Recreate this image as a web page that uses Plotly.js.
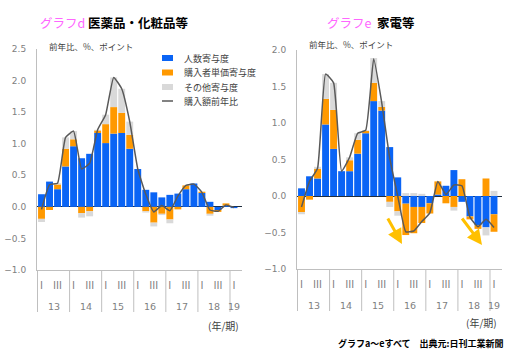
<!DOCTYPE html>
<html>
<head>
<meta charset="utf-8">
<script src="https://cdn.plot.ly/plotly-3.0.1.min.js"></script>
<style>html,body{margin:0;padding:0;background:#fff;}#chart{width:506px;height:355px;}</style>
</head>
<body>
<div id="chart"></div>
<script>
// ---- data ----
const years    = ['13','13','13','13','14','14','14','14','15','15','15','15','16','16','16','16','17','17','17','17','18','18','18','18','19'];
const quarters = ['Ⅰ','','Ⅲ','','Ⅰ','','Ⅲ','','Ⅰ','','Ⅲ','','Ⅰ','','Ⅲ','','Ⅰ','','Ⅲ','','Ⅰ','','Ⅲ','','Ⅰ'];
const seriesNames = ['人数寄与度','購入者単価寄与度','その他寄与度','購入額前年比'];

// グラフd 医薬品・化粧品等
const peopleD = [0.20,0.40,0.28,0.64,0.96,0.77,0.84,1.17,1.01,1.16,1.17,0.92,0.60,0.27,0.23,0.15,0.19,0.21,0.28,0.37,0.22,0.08,-0.05,0.02,-0.02];
const priceD  = [-0.19,-0.05,0.075,0.28,0.11,-0.10,-0.07,0.04,0.30,0.42,0.32,0.22,0.00,-0.07,-0.25,-0.11,-0.20,-0.04,0.06,0.00,0.02,-0.11,-0.03,0.035,0.00];
const otherD  = [-0.05,0.00,0.02,0.18,0.13,-0.07,-0.08,0.01,0.15,0.47,0.38,0.21,0.00,-0.02,-0.06,-0.02,-0.06,0.00,0.00,0.00,0.00,-0.03,0.00,0.00,0.00];
const totalD  = [-0.04,0.35,0.375,1.10,1.20,0.60,0.69,1.22,1.46,2.05,1.87,1.35,0.60,0.20,-0.08,0.02,-0.06,0.17,0.34,0.36,0.23,-0.05,-0.07,0.03,-0.01];

// グラフe 家電等
const peopleE = [0.105,0.27,0.24,0.98,0.645,0.34,0.34,0.58,0.86,1.30,1.17,0.67,0.255,-0.105,-0.15,-0.15,-0.10,0.02,0.14,0.355,-0.08,-0.28,-0.40,-0.43,-0.25];
const priceE  = [-0.22,-0.05,0.13,0.35,0.535,0.00,0.15,0.19,0.03,0.25,0.05,-0.08,-0.21,-0.43,-0.36,-0.22,-0.14,0.18,-0.10,-0.15,0.23,-0.04,-0.05,0.24,-0.24];
const otherE  = [-0.03,0.00,0.03,0.34,0.37,0.00,0.04,0.09,0.01,0.34,0.08,-0.07,-0.06,0.04,0.04,0.03,0.00,0.00,0.00,-0.05,0.00,0.00,0.00,-0.11,0.07];
const totalE  = [-0.15,0.20,0.38,1.67,1.55,0.34,0.53,0.86,0.90,1.88,1.28,0.52,0.00,-0.49,-0.48,-0.35,-0.23,0.20,0.02,0.15,0.14,-0.29,-0.42,-0.32,-0.43];

// ---- styles ----
const colors = ['#0a64f5','#ff9900','#d9d9d9','#595959'];
const W = 506, H = 355;
const px = v => v / W, py = v => 1 - v / H;
const periods = years.map((y, i) => y + '-' + quarters[i] + '-' + i);

function traces(people, price, other, total, xa, ya) {
  const bars = [people, price, other].map((v, i) => ({
    type: 'bar', x: periods, y: v, name: seriesNames[i], xaxis: xa, yaxis: ya,
    marker: {color: colors[i], line: {width: 0}}, showlegend: false, hoverinfo: 'y'
  }));
  bars.push({
    type: 'scatter', mode: 'lines', x: periods, y: total, name: seriesNames[3], xaxis: xa, yaxis: ya,
    line: {color: colors[3], width: 1.5, shape: 'spline', smoothing: 0.4}, showlegend: false
  });
  return bars;
}

const data = [
  ...traces(peopleD, priceD, otherD, totalD, 'x', 'y'),
  ...traces(peopleE, priceE, otherE, totalE, 'x2', 'y2')
];

const tickFont = {family: 'DejaVu Sans, sans-serif', size: 9, color: '#808080'};
const xBase = {
  type: 'category', showline: true, linecolor: '#bfbfbf', linewidth: 1,
  tickmode: 'array', tickvals: periods, ticktext: quarters, tickangle: 0,
  tickfont: {family: 'Noto Sans CJK JP, DejaVu Sans', size: 10, color: '#808080'},
  showgrid: false, zeroline: false, ticks: '', ticklabelstandoff: 6
};
const yBase = {
  showline: true, linecolor: '#bfbfbf', linewidth: 1, showgrid: false,
  zeroline: true, zerolinecolor: '#1f2d3d', zerolinewidth: 1,
  dtick: 0.5, tickformat: '.1f', tickfont: tickFont, ticks: '', ticklabelstandoff: 8
};

const jp = 'Noto Sans CJK JP, sans-serif';

// year group labels and dividers (derived from the years array)
const yearGroups = [];
years.forEach((y, i) => {
  if (i === 0 || y !== years[i - 1]) yearGroups.push({year: y, first: i, last: i});
  else yearGroups[yearGroups.length - 1].last = i;
});
function yearDecor(xa, axisBottom) {
  const shapes = yearGroups.map(g => ({
    type: 'line', xref: xa, yref: 'paper', x0: g.first - 0.5, x1: g.first - 0.5,
    y0: py(axisBottom), y1: py(axisBottom + 42), line: {color: '#bfbfbf', width: 1}
  }));
  const ann = yearGroups.map(g => ({
    xref: xa, yref: 'paper', x: (g.first + g.last) / 2, y: py(axisBottom + 36), xanchor: 'center', yanchor: 'middle',
    showarrow: false, text: g.year, font: {family: 'DejaVu Sans, sans-serif', size: 9.5, color: '#808080'}
  }));
  return {shapes, ann};
}
const decD = yearDecor('x', 270), decE = yearDecor('x2', 269);

// custom legend (compact row spacing like the original)
const legRows = [58, 72.5, 87, 101];
const legShapes = seriesNames.map((n, i) => i < 3
  ? {type: 'rect', xref: 'paper', yref: 'paper', x0: px(162), x1: px(173), y0: py(legRows[i] + 3), y1: py(legRows[i] - 3),
     fillcolor: colors[i], line: {width: 0}}
  : {type: 'line', xref: 'paper', yref: 'paper', x0: px(162), x1: px(173), y0: py(legRows[i]), y1: py(legRows[i]),
     line: {color: colors[i], width: 1.5}});
const legText = seriesNames.map((n, i) => ({
  xref: 'paper', yref: 'paper', x: px(182), y: py(legRows[i]), xanchor: 'left', yanchor: 'middle', showarrow: false,
  text: n, font: {family: jp, size: 9, color: '#404040'}
}));

const layout = {
  width: W, height: H, margin: {l: 0, r: 0, t: 0, b: 0},
  paper_bgcolor: '#ffffff', plot_bgcolor: '#ffffff',
  barmode: 'relative', bargap: 0.14,
  showlegend: false,
  xaxis:  Object.assign({}, xBase, {domain: [px(37), px(242)], anchor: 'y'}),
  yaxis:  Object.assign({}, yBase, {domain: [py(270), py(49)], range: [-1, 2.5], anchor: 'x'}),
  xaxis2: Object.assign({}, xBase, {domain: [px(297), px(502)], anchor: 'y2'}),
  yaxis2: Object.assign({}, yBase, {domain: [py(269), py(50)], range: [-1, 2], anchor: 'x2'}),
  shapes: [...legShapes, ...decD.shapes, ...decE.shapes],
  annotations: [
    {xref: 'paper', yref: 'paper', x: px(38), y: py(22), xanchor: 'left', yanchor: 'middle', showarrow: false,
     text: "<span style='color:#ff66ff'>グラフd</span> <b>医薬品・化粧品等</b>", font: {family: jp, size: 12.5, color: '#000'}},
    {xref: 'paper', yref: 'paper', x: px(325), y: py(22), xanchor: 'left', yanchor: 'middle', showarrow: false,
     text: "<span style='color:#ff66ff'>グラフe</span>  <b>家電等</b>", font: {family: jp, size: 12.5, color: '#000'}},
    {xref: 'paper', yref: 'paper', x: px(47), y: py(46), xanchor: 'left', yanchor: 'middle', showarrow: false,
     text: '前年比、%、ポイント', font: {family: jp, size: 8.5, color: '#404040'}},
    {xref: 'paper', yref: 'paper', x: px(307), y: py(44), xanchor: 'left', yanchor: 'middle', showarrow: false,
     text: '前年比、%、ポイント', font: {family: jp, size: 8.5, color: '#404040'}},
    {xref: 'paper', yref: 'paper', x: px(241), y: py(325), xanchor: 'right', yanchor: 'middle', showarrow: false,
     text: '(年/期)', font: {family: jp, size: 10, color: '#404040'}},
    {xref: 'paper', yref: 'paper', x: px(499), y: py(322), xanchor: 'right', yanchor: 'middle', showarrow: false,
     text: '(年/期)', font: {family: jp, size: 10, color: '#404040'}},
    {xref: 'paper', yref: 'paper', x: px(505), y: py(343), xanchor: 'right', yanchor: 'middle', showarrow: false,
     text: '<b>グラフa～eすべて　出典元:日刊工業新聞</b>', font: {family: jp, size: 9, color: '#000'}},
    {xref: 'paper', yref: 'paper', x: px(402), y: py(244), ax: -15, ay: -27, showarrow: true,
     arrowcolor: '#ffc000', arrowwidth: 3, arrowhead: 2, arrowsize: 1, text: ''},
    {xref: 'paper', yref: 'paper', x: px(482), y: py(245), ax: -21, ay: -28, showarrow: true,
     arrowcolor: '#ffc000', arrowwidth: 3, arrowhead: 2, arrowsize: 1, text: ''},
    ...legText, ...decD.ann, ...decE.ann
  ]
};

Plotly.newPlot('chart', data, layout, {staticPlot: true, displayModeBar: false});
</script>
</body>
</html>
